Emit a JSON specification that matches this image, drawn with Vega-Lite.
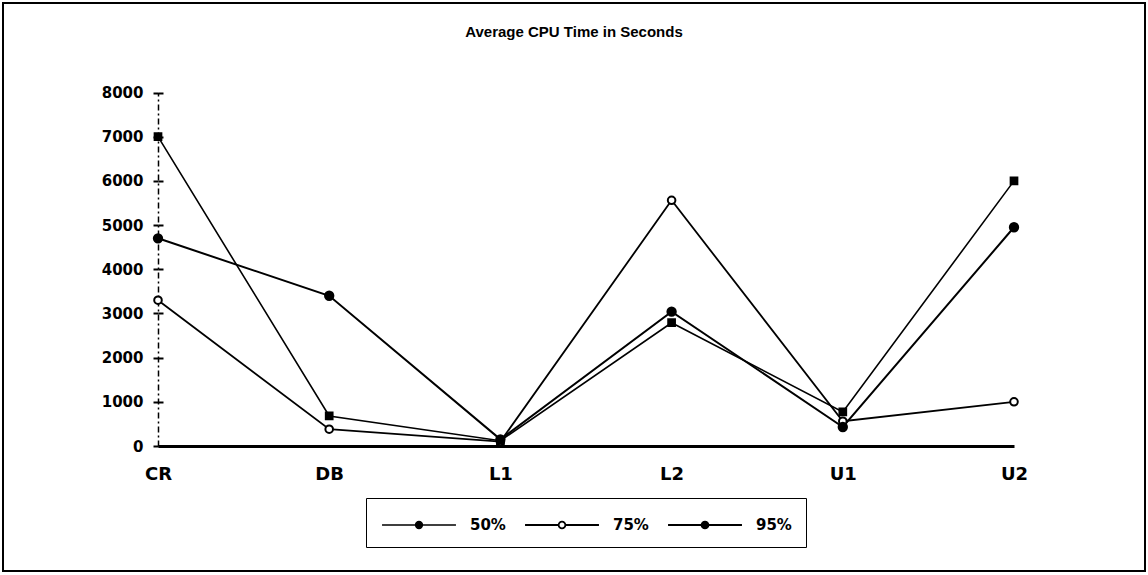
{
  "$schema": "https://vega.github.io/schema/vega-lite/v6.json",
  "width": 1142,
  "height": 568,
  "padding": 3,
  "autosize": {"type": "none"},
  "background": "white",
  "title": {"text": "Average CPU Time in Seconds", "offset": -37, "fontSize": 15, "font": "Liberation Sans", "fontWeight": "bold", "anchor": "middle", "frame": "group", "color": "black"},
  "config": {"view": {"stroke": "black", "strokeWidth": 2}},
  "data": {"values": [
    {"cat": "CR", "series": "50%", "v": 7000},
    {"cat": "DB", "series": "50%", "v": 680},
    {"cat": "L1", "series": "50%", "v": 120},
    {"cat": "L2", "series": "50%", "v": 2790},
    {"cat": "U1", "series": "50%", "v": 770},
    {"cat": "U2", "series": "50%", "v": 6000},
    {"cat": "CR", "series": "75%", "v": 3300},
    {"cat": "DB", "series": "75%", "v": 380},
    {"cat": "L1", "series": "75%", "v": 100},
    {"cat": "L2", "series": "75%", "v": 5560},
    {"cat": "U1", "series": "75%", "v": 560},
    {"cat": "U2", "series": "75%", "v": 1000},
    {"cat": "CR", "series": "95%", "v": 4700},
    {"cat": "DB", "series": "95%", "v": 3400},
    {"cat": "L1", "series": "95%", "v": 150},
    {"cat": "L2", "series": "95%", "v": 3040},
    {"cat": "U1", "series": "95%", "v": 430},
    {"cat": "U2", "series": "95%", "v": 4950}
  ]},
  "encoding": {
    "x": {"field": "cat", "type": "ordinal", "sort": ["CR", "DB", "L1", "L2", "U1", "U2"],
      "scale": {"type": "point", "padding": 0, "range": [155, 1011]},
      "axis": {"orient": "bottom", "offset": -125, "title": null, "labelAngle": 0, "ticks": false, "domainWidth": 3, "domainColor": "black", "labelPadding": 19, "labelFontSize": 18, "labelFont": "DejaVu Sans", "labelFontWeight": "bold", "labelColor": "black"}}
  },
  "layer": [
    {
      "mark": {"type": "line"},
      "encoding": {
        "y": {"field": "v", "type": "quantitative",
          "scale": {"domain": [0, 8000], "range": [443, 89.5], "nice": false, "zero": true},
          "axis": {"orient": "left", "offset": -155, "title": null, "grid": false, "format": "d", "values": [0, 1000, 2000, 3000, 4000, 5000, 6000, 7000, 8000], "domainDash": [6, 3, 2, 3], "domainWidth": 1.5, "domainColor": "black", "tickSize": 5, "tickWidth": 2, "tickColor": "black", "labelPadding": 10, "labelFontSize": 15, "labelFont": "DejaVu Sans", "labelFontWeight": "bold", "labelColor": "black"}},
        "color": {"field": "series", "type": "nominal", "scale": {"range": ["black", "black", "black"]},
          "legend": {"orient": "none", "legendX": 363, "legendY": 495, "direction": "horizontal", "title": null,
            "strokeColor": "black", "padding": 14, "columnPadding": 15,
            "symbolType": "M-3.08,0L-0.28,0M0.28,0L3.08,0M-0.28,0A0.28,0.28 0 1,1 0.28,0A0.28,0.28 0 1,1 -0.28,0Z",
            "symbolSize": 576, "symbolStrokeWidth": 2, "symbolOffset": 26, "labelOffset": 38,
            "labelFontSize": 15, "labelFont": "DejaVu Sans", "labelFontWeight": "bold", "labelColor": "black",
            "encode": {"symbols": {"update": {"fill": {"signal": "datum.value === '75%' ? 'white' : 'black'"}, "stroke": {"value": "black"}}}}}},
        "strokeWidth": {"field": "series", "type": "nominal", "scale": {"range": [1.6, 2, 2.6]}, "legend": null}
      }
    },
    {
      "mark": {"type": "point", "filled": true, "stroke": "black", "opacity": 1},
      "encoding": {
        "y": {"field": "v", "type": "quantitative",
          "scale": {"domain": [0, 8000], "range": [443, 89.5], "nice": false, "zero": true},
          "axis": {"orient": "right", "offset": -987, "title": null, "grid": false, "labels": false, "domain": false, "values": [0, 1000, 2000, 3000, 4000, 5000, 6000, 7000, 8000], "tickSize": 5, "tickWidth": 2, "tickColor": "black"}},
        "shape": {"field": "series", "type": "nominal", "scale": {"range": ["square", "circle", "circle"]}, "legend": null},
        "fill": {"field": "series", "type": "nominal", "scale": {"range": ["black", "white", "black"]}, "legend": null},
        "size": {"field": "series", "type": "nominal", "scale": {"range": [45, 70, 28]}, "legend": null}
      }
    }
  ],
  "resolve": {"scale": {"y": "independent"}, "axis": {"y": "independent"}}
}
